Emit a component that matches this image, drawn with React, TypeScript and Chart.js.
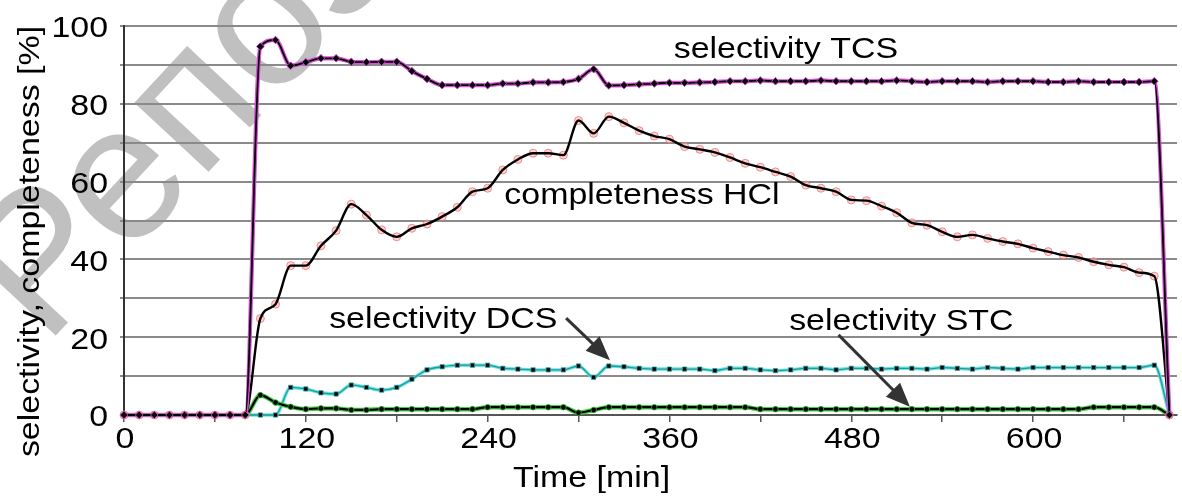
import React, { useEffect, useRef } from 'react';
import { Chart, registerables } from 'chart.js';

Chart.register(...registerables);

// ---------- data ----------
const timeMin = [
  0, 10, 20, 30, 40, 50, 60, 70, 80, 90, 100, 110, 120, 130, 140, 150, 160, 170, 180, 190,
  200, 210, 220, 230, 240, 250, 260, 270, 280, 290, 300, 310, 320, 330, 340, 350, 360, 370, 380, 390,
  400, 410, 420, 430, 440, 450, 460, 470, 480, 490, 500, 510, 520, 530, 540, 550, 560, 570, 580, 590,
  600, 610, 620, 630, 640, 650, 660, 670, 680, 690,
];

const selectivityTCS = [
  0, 0, 0, 0, 0, 0, 0, 0, 0,
  94.7, 96.4, 89.8, 90.7, 91.7, 91.7, 90.8, 90.7, 90.8, 90.8, 88.4, 86.4, 84.8, 84.8, 84.8, 84.8,
  85.2, 85.2, 85.5, 85.5, 85.6, 86.4, 88.9, 84.7, 84.8, 85.0, 85.2, 85.4, 85.4, 85.5,
  85.6, 85.8, 85.8, 86.0, 85.8, 85.8, 85.8, 86.0, 85.8, 85.8, 85.8, 85.8, 86.0, 85.8, 85.6,
  85.8, 85.8, 85.8, 85.6, 85.8, 85.8, 85.8, 85.6, 85.6, 85.8, 85.6, 85.6, 85.6, 85.6,
  85.8, 0,
];

const completenessHCl = [
  0, 0, 0, 0, 0, 0, 0, 0, 0,
  24.8, 28.5, 38.4, 38.4, 43.5, 47.4, 54.2, 51.4, 47.6, 45.8, 48.0, 49.1, 51.0, 53.4, 57.4, 58.3,
  63.0, 65.7, 67.3, 67.3, 66.8, 75.7, 72.4, 76.7, 75.1, 73.1, 71.7, 70.9, 69.0, 68.3,
  67.5, 66.2, 64.7, 63.7, 62.5, 61.3, 59.1, 58.3, 57.4, 55.3, 55.1, 53.7, 52.0, 49.4, 48.8,
  47.1, 45.8, 46.3, 45.4, 44.6, 44.0, 42.9, 42.0, 41.1, 40.5, 39.4, 38.6, 38.0, 36.6, 35.7,
  0,
];

const selectivityDCS = [
  0, 0, 0, 0, 0, 0, 0, 0, 0, 0, 0,
  7.1, 6.7, 5.7, 5.4, 7.7, 7.1, 6.4, 7.1, 9.2, 11.6, 12.4, 12.8, 12.8, 12.8,
  12.0, 11.8, 11.6, 11.6, 11.6, 12.6, 9.7, 12.6, 12.4, 12.0, 11.8, 11.8, 11.8, 11.8,
  11.4, 12.0, 12.0, 11.6, 11.4, 11.6, 12.0, 12.0, 11.6, 12.0, 12.0, 11.8, 12.0, 12.0, 11.8,
  12.2, 12.0, 11.8, 12.2, 12.0, 11.8, 12.2, 12.2, 12.2, 12.2, 12.2, 12.2, 12.2, 12.2, 12.8,
  0,
];

const selectivitySTC = [
  0, 0, 0, 0, 0, 0, 0, 0, 0,
  5.1, 3.2, 2.1, 1.5, 1.7, 1.7, 1.3, 1.3, 1.5, 1.5, 1.5, 1.5, 1.5, 1.5, 1.5,
  2.0, 2.0, 2.0, 2.0, 2.0, 2.0, 0.6, 1.3,
  2.0, 2.0, 2.0, 2.0, 2.0, 2.0, 2.0, 2.0, 2.0, 2.0,
  1.5, 1.5, 1.5, 1.5, 1.5, 1.5, 1.5, 1.5, 1.5, 1.5, 1.5, 1.5, 1.5, 1.5, 1.5, 1.5, 1.5, 1.5, 1.5, 1.5, 1.5, 1.5,
  2.0, 2.0, 2.0, 2.0, 2.0,
  0,
];

const xTickValues = [0, 60, 120, 180, 240, 300, 360, 420, 480, 540, 600, 660];
const xTickLabels = [0, 120, 240, 360, 480, 600];
const yTickValues = [0, 10, 20, 30, 40, 50, 60, 70, 80, 90, 100];
const yTickLabels = [0, 20, 40, 60, 80, 100];

const xTitle = 'Time [min]';
const yTitle = 'selectivity, completeness [%]';

// text annotations anchored in data coordinates (left/baseline)
const seriesNotes = [
  { text: 'selectivity TCS', t: 362.8, v: 91.8 },
  { text: 'completeness HCl', t: 251.0, v: 54.2 },
  { text: 'selectivity DCS', t: 135.4, v: 22.4 },
  { text: 'selectivity STC', t: 439.0, v: 21.9 },
];
const arrows = [
  { t1: 291.8, v1: 24.9, t2: 320.7, v2: 14.1 },
  { t1: 471.6, v1: 20.6, t2: 518.7, v2: 2.1 },
];

const watermark = 'Репозиторий';

// ---------- styling ----------
const FONT = "'Liberation Sans', Arial, Helvetica, sans-serif";
const TEXT_SIZE = 29;
const TEXT_SCALE = 1.17;

function drawText(ctx: CanvasRenderingContext2D, text: string, x: number, y: number, align: CanvasTextAlign, rot = 0) {
  ctx.save();
  ctx.translate(x, y);
  if (rot) ctx.rotate(rot);
  ctx.scale(TEXT_SCALE, 1);
  ctx.font = `${TEXT_SIZE}px ${FONT}`;
  ctx.fillStyle = '#000';
  ctx.textAlign = align;
  ctx.textBaseline = 'alphabetic';
  ctx.fillText(text, 0, 0);
  ctx.restore();
}

function drawArrow(ctx: CanvasRenderingContext2D, x1: number, y1: number, x2: number, y2: number) {
  const ang = Math.atan2(y2 - y1, x2 - x1);
  const headLen = 24;
  const headW = 10;
  const bx = x2 - headLen * Math.cos(ang);
  const by = y2 - headLen * Math.sin(ang);
  ctx.save();
  ctx.strokeStyle = '#333';
  ctx.fillStyle = '#333';
  ctx.lineWidth = 3;
  ctx.beginPath();
  ctx.moveTo(x1, y1);
  ctx.lineTo(bx + 2 * Math.cos(ang), by + 2 * Math.sin(ang));
  ctx.stroke();
  ctx.beginPath();
  ctx.moveTo(x2, y2);
  ctx.lineTo(bx + headW * Math.sin(ang), by - headW * Math.cos(ang));
  ctx.lineTo(bx - headW * Math.sin(ang), by + headW * Math.cos(ang));
  ctx.closePath();
  ctx.fill();
  ctx.restore();
}

const decorPlugin = {
  id: 'decor',
  beforeDraw(chart: any) {
    const ctx = chart.ctx as CanvasRenderingContext2D;
    ctx.save();
    ctx.translate(45, 347);
    ctx.rotate((-47 * Math.PI) / 180);
    ctx.font = `192px ${FONT}`;
    ctx.fillStyle = 'rgb(192,192,192)';
    ctx.textBaseline = 'alphabetic';
    ctx.textAlign = 'left';
    ctx.fillText(watermark, 0, 0);
    ctx.restore();
  },
  afterDraw(chart: any) {
    const ctx = chart.ctx as CanvasRenderingContext2D;
    const xs = chart.scales.x;
    const ys = chart.scales.y;
    const area = chart.chartArea;
    // tick labels
    yTickLabels.forEach((v) => {
      drawText(ctx, String(v), area.left - 16, ys.getPixelForValue(v) + 11.3, 'right');
    });
    xTickLabels.forEach((v) => {
      drawText(ctx, String(v), xs.getPixelForValue(v) + 1, area.bottom + 32.5, 'center');
    });
    // axis titles
    drawText(ctx, xTitle, 513, 487, 'left');
    drawText(ctx, yTitle, 39, 241.5, 'center', -Math.PI / 2);
    // series notes
    seriesNotes.forEach((n) => {
      drawText(ctx, n.text, xs.getPixelForValue(n.t), ys.getPixelForValue(n.v), 'left');
    });
    arrows.forEach((a) => {
      drawArrow(
        ctx,
        xs.getPixelForValue(a.t1),
        ys.getPixelForValue(a.v1),
        xs.getPixelForValue(a.t2),
        ys.getPixelForValue(a.v2)
      );
    });
  },
};

const toXY = (vals: number[]) => timeMin.map((t, i) => ({ x: t, y: vals[i] }));

const lineBase = {
  tension: 0.4,
  cubicInterpolationMode: 'monotone' as const,
  clip: false as const,
  fill: false,
};

export default function App() {
  const ref = useRef<HTMLCanvasElement>(null);

  useEffect(() => {
    if (!ref.current) return;
    const chart = new Chart(ref.current, {
      type: 'line',
      data: {
        datasets: [
          {
            ...lineBase,
            label: 'selectivity TCS',
            data: toXY(selectivityTCS),
            borderColor: '#000',
            borderWidth: 1.8,
            pointStyle: 'rectRot',
            pointRadius: 3.8,
            pointBackgroundColor: '#000',
            pointBorderColor: '#c040c0',
            pointBorderWidth: 1,
            order: 1,
          },
          {
            ...lineBase,
            label: 'TCS halo',
            data: toXY(selectivityTCS),
            borderColor: '#d850d8',
            borderWidth: 4.2,
            pointRadius: 0,
            order: 2,
          },
          {
            ...lineBase,
            label: 'completeness HCl',
            data: toXY(completenessHCl),
            borderColor: '#000',
            borderWidth: 2.4,
            pointRadius: 0,
            order: 3,
          },
          {
            ...lineBase,
            label: 'HCl markers',
            data: toXY(completenessHCl),
            showLine: false,
            pointStyle: 'circle',
            pointRadius: 4,
            pointBackgroundColor: 'rgba(255,175,175,0.55)',
            pointBorderColor: 'rgba(235,110,110,0.75)',
            pointBorderWidth: 1,
            order: 4,
          },
          {
            ...lineBase,
            label: 'selectivity STC',
            data: toXY(selectivitySTC),
            borderColor: '#000',
            borderWidth: 2.2,
            pointStyle: 'circle',
            pointRadius: 2.8,
            pointBackgroundColor: '#000',
            pointBorderColor: '#30c030',
            pointBorderWidth: 0.8,
            order: 5,
          },
          {
            ...lineBase,
            label: 'STC halo',
            data: toXY(selectivitySTC),
            borderColor: '#44d044',
            borderWidth: 4.5,
            pointRadius: 0,
            order: 6,
          },
          {
            ...lineBase,
            label: 'selectivity DCS',
            data: toXY(selectivityDCS),
            borderColor: '#239a9a',
            borderWidth: 1.3,
            pointStyle: 'rect',
            pointRadius: 3,
            pointBackgroundColor: '#000',
            pointBorderColor: '#30a0a0',
            pointBorderWidth: 0.8,
            order: 7,
          },
          {
            ...lineBase,
            label: 'DCS halo',
            data: toXY(selectivityDCS),
            borderColor: 'rgba(90,225,225,0.9)',
            borderWidth: 3.5,
            pointRadius: 0,
            order: 8,
          },
        ],
      },
      options: {
        animation: false,
        responsive: false,
        devicePixelRatio: 1,
        events: [],
        layout: { padding: { top: 26, left: 0, right: 0, bottom: 0 } },
        plugins: {
          legend: { display: false },
          tooltip: { enabled: false },
          title: { display: false },
        },
        scales: {
          x: {
            type: 'linear',
            min: 0,
            max: 695,
            afterBuildTicks: (s: any) => {
              s.ticks = xTickValues.map((v) => ({ value: v }));
            },
            afterFit: (s: any) => {
              s.height = 81;
            },
            ticks: { display: false },
            grid: {
              drawOnChartArea: false,
              drawTicks: true,
              tickLength: 7,
              color: '#555',
              lineWidth: 1.5,
            },
            border: { display: true, color: '#555', width: 2 },
          },
          y: {
            type: 'linear',
            min: 0,
            max: 100,
            afterBuildTicks: (s: any) => {
              s.ticks = yTickValues.map((v) => ({ value: v }));
            },
            afterFit: (s: any) => {
              s.width = 124;
            },
            ticks: { display: false },
            grid: {
              color: '#8a8a8a',
              lineWidth: 2,
              drawTicks: true,
              tickLength: 4,
            },
            border: { display: true, color: '#333', width: 2 },
          },
        },
      },
      plugins: [decorPlugin],
    });
    return () => chart.destroy();
  }, []);

  return (
    <div style={{ width: 1182, height: 496 }}>
      <style>{'body{margin:0}'}</style>
      <canvas ref={ref} width={1182} height={496} style={{ display: 'block' }} />
    </div>
  );
}
